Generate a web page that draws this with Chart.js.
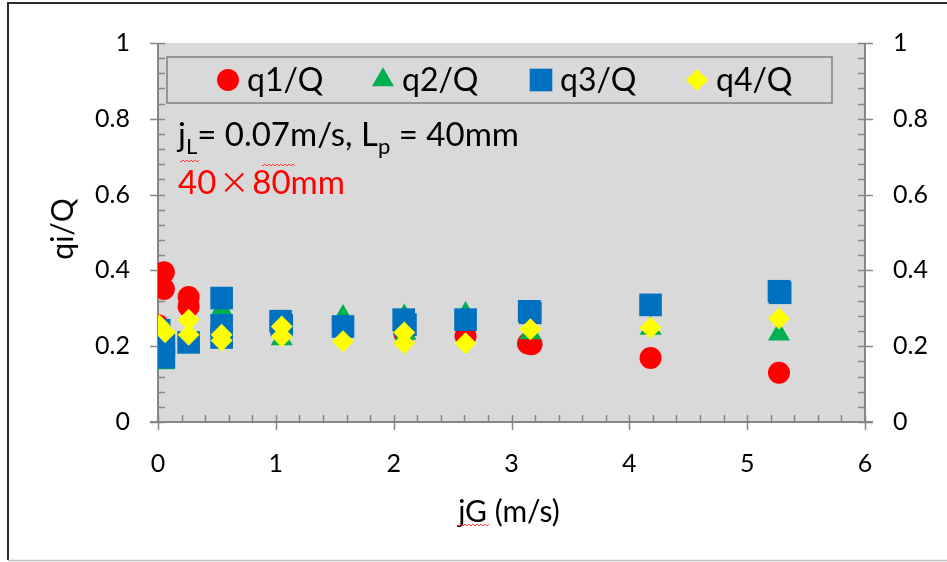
<!DOCTYPE html>
<html>
<head>
<meta charset="utf-8">
<script src="https://cdn.jsdelivr.net/npm/chart.js@4.4.0/dist/chart.umd.min.js"></script>
<style>
  html, body { margin: 0; padding: 0; background: #fff; }
</style>
</head>
<body>
<canvas id="myChart" width="947" height="562"></canvas>
<script>
// values (jG in m/s, qi/Q)
const q1X = [0.00, 0.05, 0.05, 0.26, 0.26, 0.54, 1.05, 1.57, 2.09, 2.61, 3.14, 3.17, 4.18, 5.27];
const q1Y = [0.255, 0.395, 0.351, 0.330, 0.305, 0.240, 0.250, 0.250, 0.234, 0.226, 0.207, 0.205, 0.169, 0.130];

const q2X = [0.00, 0.05, 0.26, 0.54, 1.04, 1.05, 1.57, 2.09, 2.10, 2.61, 3.16, 4.18, 5.27];
const q2Y = [0.240, 0.156, 0.220, 0.298, 0.263, 0.219, 0.278, 0.279, 0.234, 0.286, 0.235, 0.247, 0.232];

const q3X = [0.01, 0.05, 0.05, 0.26, 0.54, 0.54, 0.54, 1.04, 1.05, 1.57, 2.085, 2.10, 2.61, 3.15, 3.16, 4.18, 5.27, 5.28];
const q3Y = [0.242, 0.203, 0.171, 0.210, 0.327, 0.255, 0.223, 0.266, 0.255, 0.252, 0.270, 0.257, 0.270, 0.292, 0.288, 0.309, 0.345, 0.341];

const q4X = [0.01, 0.06, 0.26, 0.26, 0.54, 0.54, 1.05, 1.05, 1.57, 2.09, 2.09, 2.61, 3.16, 4.18, 5.27];
const q4Y = [0.255, 0.237, 0.270, 0.230, 0.230, 0.215, 0.252, 0.226, 0.213, 0.236, 0.208, 0.208, 0.245, 0.249, 0.273];

const seriesLabels = ['q1/Q', 'q2/Q', 'q3/Q', 'q4/Q'];
const xTicks = [0, 1, 2, 3, 4, 5, 6];
const yTicks = [0, 0.2, 0.4, 0.6, 0.8, 1];

const FONT = 'Lato, "Open Sans", sans-serif';
const CJK = '"Noto Sans CJK JP", sans-serif';

function pts(xs, ys) {
    return xs.map((x, i) => ({x: x, y: ys[i]}));
}

const frame = {
    id: 'frame',
    beforeDraw(chart) {
        const {ctx, chartArea: a} = chart;
        ctx.save();
        ctx.fillStyle = '#fff';
        ctx.fillRect(0, 0, chart.width, chart.height);
        ctx.fillStyle = '#d9d9d9';
        ctx.fillRect(a.left, a.top, a.right - a.left, a.bottom - a.top);
        // outer border of the picture
        ctx.strokeStyle = '#2b2b2b';
        ctx.lineWidth = 2;
        ctx.beginPath();
        ctx.moveTo(8, 560);
        ctx.lineTo(8, 3);
        ctx.lineTo(947, 3);
        ctx.stroke();
        ctx.strokeStyle = '#c0c0c0';
        ctx.lineWidth = 1.5;
        ctx.beginPath();
        ctx.moveTo(8, 560.5);
        ctx.lineTo(947, 560.5);
        ctx.stroke();
        ctx.restore();
    },
    beforeDatasetsDraw(chart) {
        const {ctx, chartArea: a} = chart;
        const xs = chart.scales.x, ys = chart.scales.y;
        ctx.save();
        ctx.strokeStyle = '#868686';
        ctx.lineWidth = 2;
        ctx.beginPath();
        ctx.moveTo(a.left, a.top); ctx.lineTo(a.left, a.bottom);
        ctx.moveTo(a.right, a.top); ctx.lineTo(a.right, a.bottom);
        ctx.moveTo(a.left - 8, a.bottom); ctx.lineTo(a.right + 8, a.bottom);
        ctx.stroke();
        ctx.lineWidth = 1.5;
        ctx.beginPath();
        // y minor / major ticks, both sides
        for (let k = 0; k <= 25; k++) {
            const py = Math.round(ys.getPixelForValue(k * 0.04)) + 0.5;
            const major = k % 5 === 0;
            ctx.moveTo(a.left - (major ? 8 : 0), py); ctx.lineTo(a.left + 7, py);
            ctx.moveTo(a.right - 7, py); ctx.lineTo(a.right + (major ? 8 : 0), py);
        }
        // x minor / major ticks
        for (let k = 0; k <= 30; k++) {
            const px = Math.round(xs.getPixelForValue(k * 0.2)) + 0.5;
            const major = k % 5 === 0;
            ctx.moveTo(px, a.bottom + (major ? 8 : 0)); ctx.lineTo(px, a.bottom - 7);
        }
        ctx.stroke();
        ctx.restore();
    },
    afterDraw(chart) {
        const {ctx} = chart;
        ctx.save();
        // legend box
        ctx.fillStyle = '#d9d9d9';
        ctx.fillRect(167, 57, 665, 46);
        ctx.strokeStyle = '#7f7f7f';
        ctx.lineWidth = 1.5;
        ctx.strokeRect(167, 57, 665, 46);
        const markX = [228, 383, 541, 697];
        ctx.font = '32px ' + FONT;
        ctx.textBaseline = 'middle';
        chart.data.datasets.forEach((ds, i) => {
            ctx.fillStyle = ds.backgroundColor;
            Chart.helpers.drawPoint(ctx, {pointStyle: ds.pointStyle, radius: ds.pointRadius, rotation: 0}, markX[i], 80);
            ctx.fillStyle = '#000';
            ctx.fillText(ds.label, markX[i] + 19, 81);
        });

        // annotation text
        ctx.textBaseline = 'alphabetic';
        ctx.fillStyle = '#000';
        let x = 178;
        const base = 146;
        const big = '33px ' + FONT, small = '22px ' + FONT;
        const parts = [['j', big, 0], ['L', small, 8], ['= 0.07m/s, ', big, 0], ['L', big, 0], ['p', small, 8], [' = 40mm', big, 0]];
        parts.forEach(p => {
            ctx.font = p[1];
            const w = ctx.measureText(p[0]).width;
            ctx.fillText(p[0], x, base + p[2]);
            x += w;
        });
        ctx.fillStyle = '#ff0000';
        ctx.font = big;
        ctx.fillText('40', 178, 194);
        let w40 = ctx.measureText('40').width;
        ctx.font = '30px ' + CJK;
        ctx.fillText('\u00d7', 178 + w40 + 3, 193);
        let wx = ctx.measureText('\u00d7').width;
        ctx.font = big;
        ctx.fillText('80mm', 178 + w40 + wx + 6, 194);

        // axis titles
        ctx.fillStyle = '#000';
        ctx.font = '30px ' + FONT;
        ctx.textAlign = 'center';
        ctx.textBaseline = 'middle';
        ctx.fillText('jG (m/s)', 509, 512);
        ctx.save();
        ctx.translate(63, 229);
        ctx.rotate(-Math.PI / 2);
        ctx.fillText('qi/Q', 0, 0);
        ctx.restore();

        // spell-check squiggles
        ctx.strokeStyle = '#ff4040';
        ctx.lineWidth = 1;
        const squiggle = (x0, x1, y) => {
            ctx.beginPath();
            ctx.moveTo(x0, y);
            for (let sx = x0; sx < x1; sx += 2) ctx.lineTo(sx + 1, y + ((sx - x0) / 2 % 2 ? -1 : 1));
            ctx.stroke();
        };
        squiggle(180, 200, 161);
        squiggle(262, 296, 165);
        squiggle(458, 490, 525);
        ctx.restore();
    }
};

const ctx = document.getElementById('myChart');
const tickFont = {family: FONT, size: 25};
const myChart = new Chart(ctx, {
    type: 'scatter',
    data: {
        datasets: [
            {label: seriesLabels[0], data: pts(q1X, q1Y), pointStyle: 'circle', pointRadius: 11, backgroundColor: '#ff0000', borderWidth: 0, order: 4},
            {label: seriesLabels[1], data: pts(q2X, q2Y), pointStyle: 'triangle', pointRadius: 12.7, backgroundColor: '#00b050', borderWidth: 0, order: 3},
            {label: seriesLabels[2], data: pts(q3X, q3Y), pointStyle: 'rect', pointRadius: 16, backgroundColor: '#0070c0', borderWidth: 0, order: 2},
            {label: seriesLabels[3], data: pts(q4X, q4Y), pointStyle: 'rectRot', pointRadius: 11, backgroundColor: '#ffff00', borderWidth: 0, order: 1}
        ]
    },
    options: {
        responsive: false,
        animation: false,
        layout: {padding: {top: 37, left: 0, right: 0, bottom: 0}},
        plugins: {legend: {display: false}, tooltip: {enabled: false}},
        elements: {point: {hoverRadius: 11, borderWidth: 0}},
        scales: {
            x: {
                type: 'linear', position: 'bottom', min: 0, max: 6,
                afterBuildTicks: s => { s.ticks = xTicks.map(v => ({value: v})); },
                afterFit: s => { s.height = 140; },
                grid: {display: false, drawTicks: false},
                border: {display: false},
                ticks: {color: '#000', font: tickFont, padding: 27, maxRotation: 0}
            },
            y: {
                type: 'linear', position: 'left', min: 0, max: 1,
                afterBuildTicks: s => { s.ticks = yTicks.map(v => ({value: v})); },
                afterFit: s => { s.width = 158; },
                grid: {display: false, drawTicks: false},
                border: {display: false},
                ticks: {color: '#000', font: tickFont, padding: 28, callback: v => String(+v.toFixed(1))}
            },
            y2: {
                type: 'linear', position: 'right', min: 0, max: 1,
                afterBuildTicks: s => { s.ticks = yTicks.map(v => ({value: v})); },
                afterFit: s => { s.width = 82; },
                grid: {display: false, drawTicks: false},
                border: {display: false},
                ticks: {color: '#000', font: tickFont, padding: 28, callback: v => String(+v.toFixed(1))}
            }
        }
    },
    plugins: [frame]
});
</script>
</body>
</html>
